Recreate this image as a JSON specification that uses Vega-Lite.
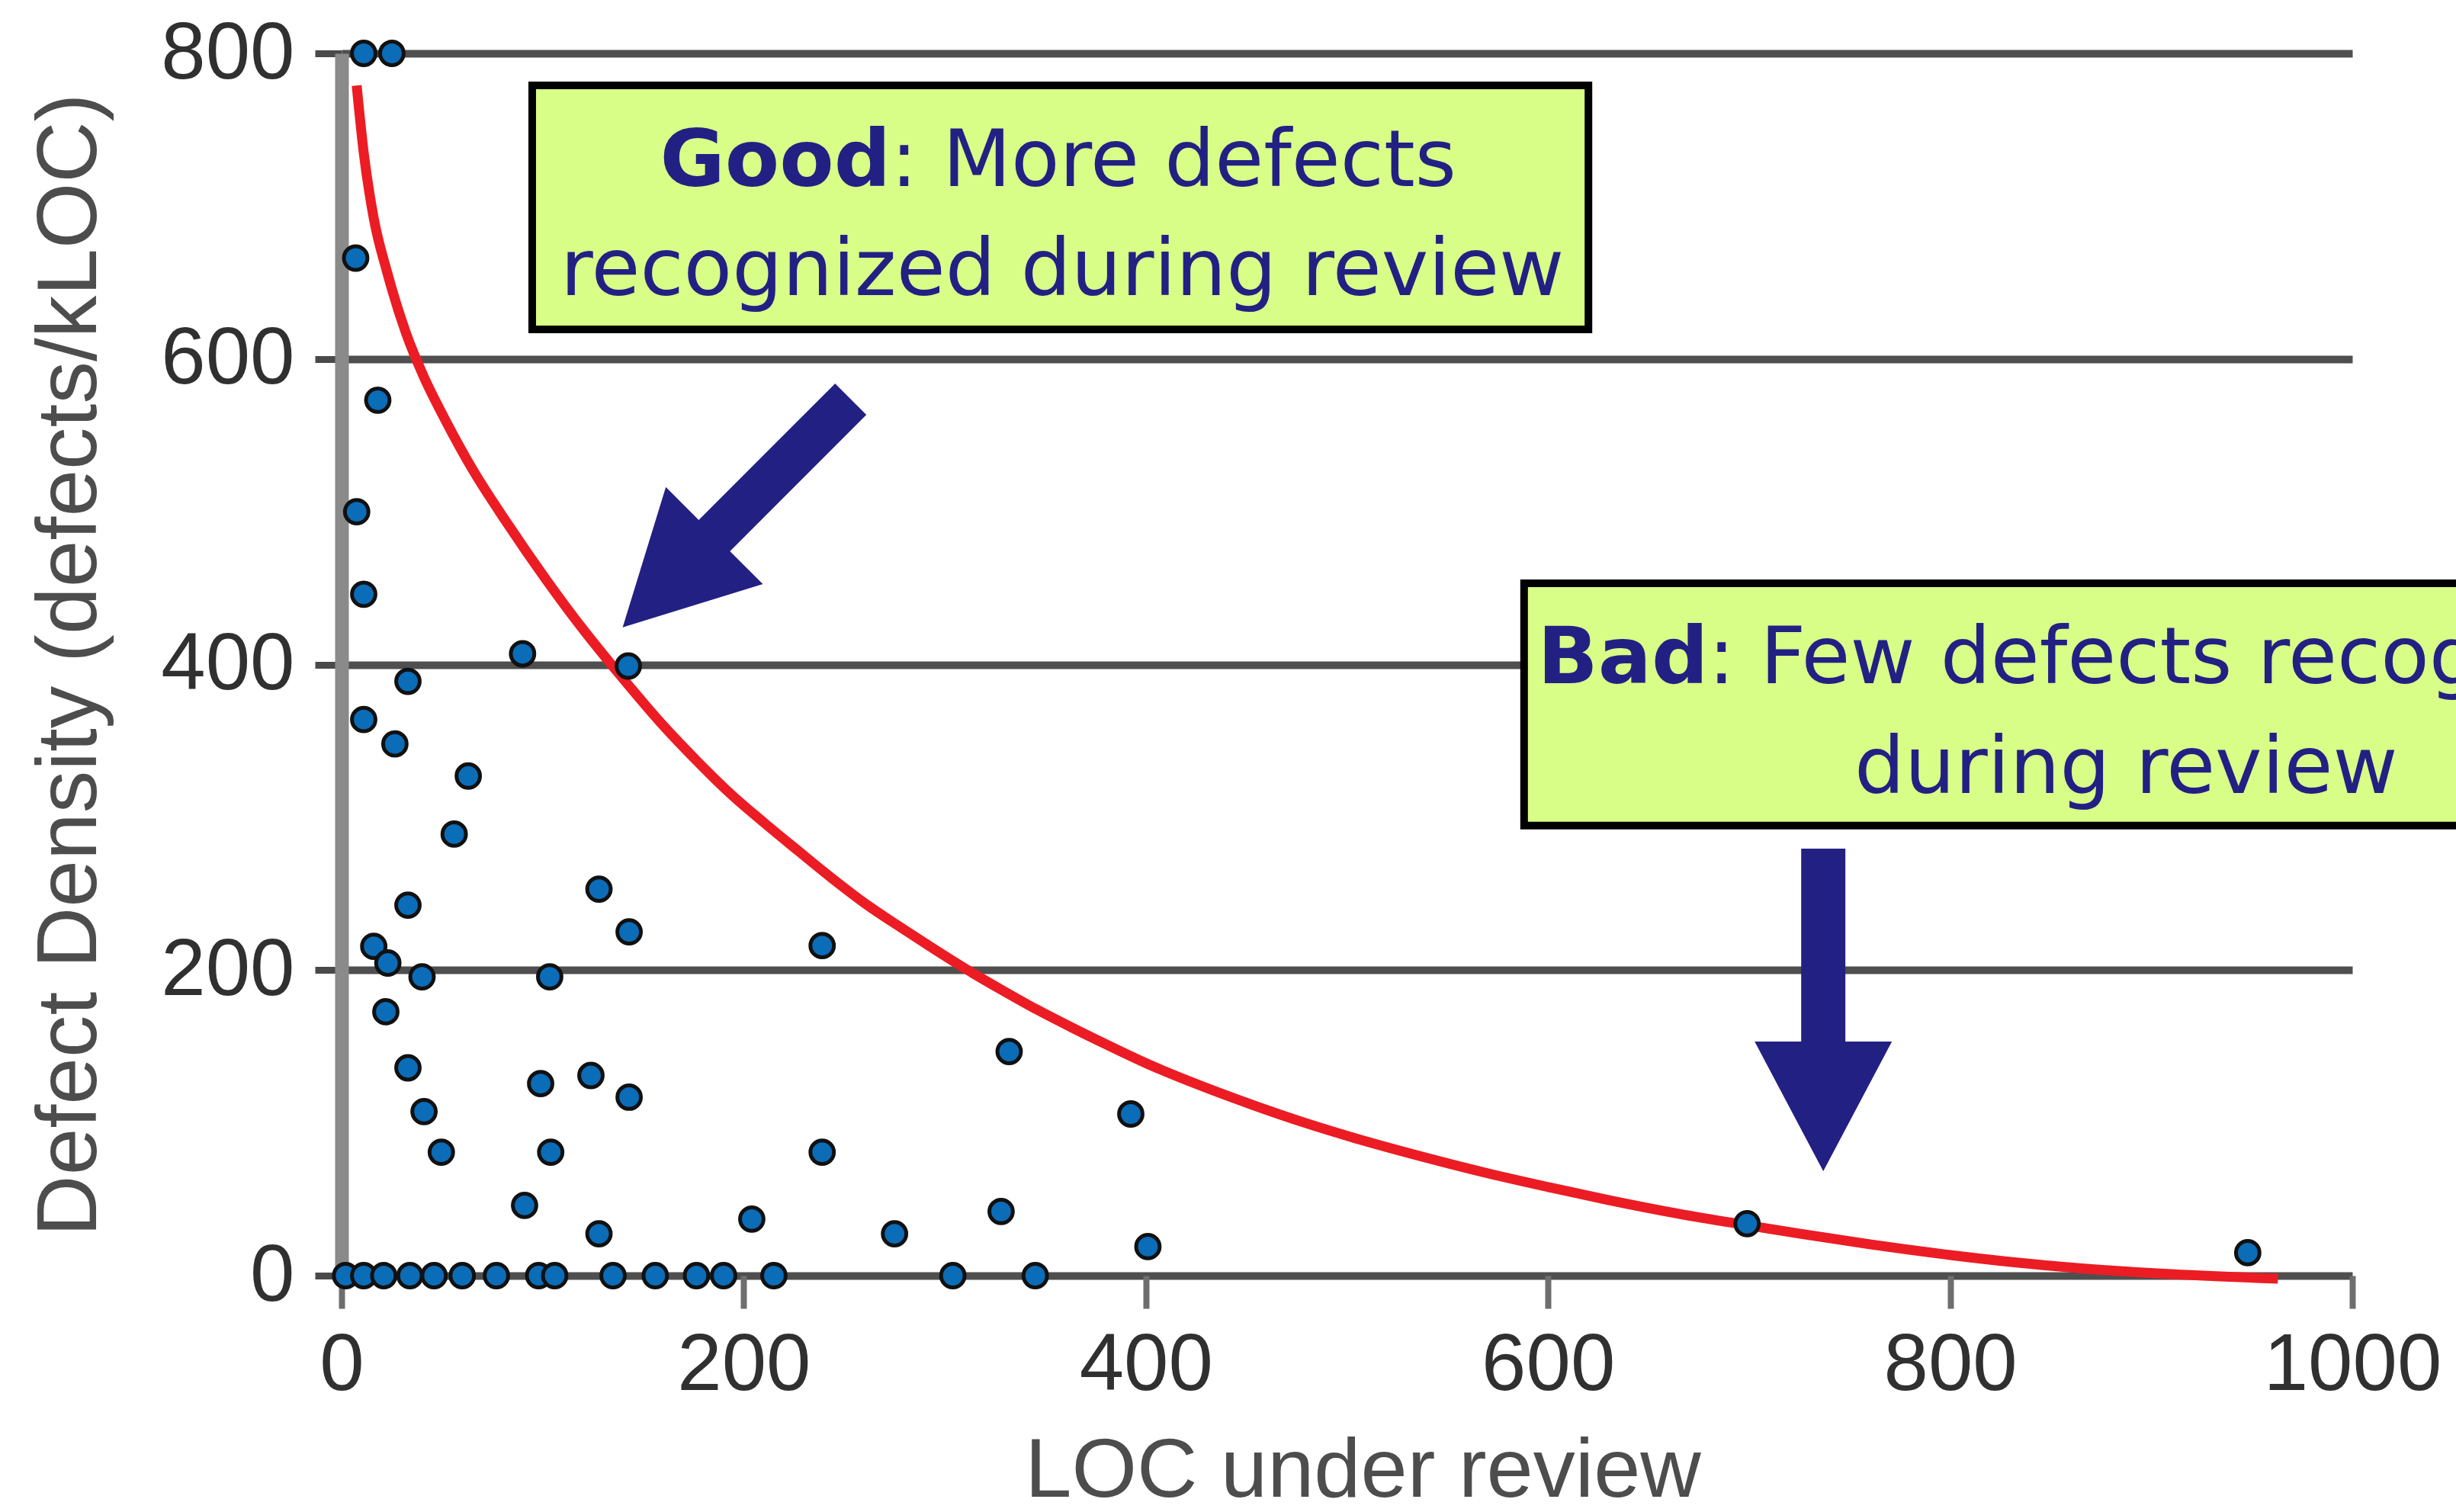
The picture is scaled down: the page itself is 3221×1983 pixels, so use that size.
{
  "$schema": "https://vega.github.io/schema/vega-lite/v6.json",
  "width": 2637,
  "height": 1603,
  "autosize": {"type": "none"},
  "padding": {"left": 448, "top": 70, "right": 136, "bottom": 310},
  "background": "white",
  "config": {"view": {"stroke": null}},
  "datasets": {
    "reviews": [
      {"loc": 11, "density": 800}, {"loc": 25, "density": 800},
      {"loc": 7, "density": 666}, {"loc": 18, "density": 573}, {"loc": 7.5, "density": 500},
      {"loc": 11, "density": 446}, {"loc": 90, "density": 407}, {"loc": 142.6, "density": 399},
      {"loc": 33, "density": 389}, {"loc": 11, "density": 364}, {"loc": 26.5, "density": 348},
      {"loc": 63, "density": 327}, {"loc": 56, "density": 289}, {"loc": 33, "density": 242.5},
      {"loc": 128, "density": 253}, {"loc": 143, "density": 225}, {"loc": 239, "density": 216},
      {"loc": 16, "density": 215.5}, {"loc": 23, "density": 204.6}, {"loc": 40, "density": 195.6},
      {"loc": 103.5, "density": 195.6}, {"loc": 22, "density": 172.7}, {"loc": 33, "density": 136},
      {"loc": 99, "density": 125.7}, {"loc": 124, "density": 131}, {"loc": 143, "density": 116.8},
      {"loc": 41, "density": 107.4}, {"loc": 49.6, "density": 80.8}, {"loc": 104, "density": 80.8},
      {"loc": 239, "density": 80.8}, {"loc": 91, "density": 46}, {"loc": 128, "density": 27.4},
      {"loc": 204, "density": 37}, {"loc": 332, "density": 146.7}, {"loc": 392.5, "density": 105.8},
      {"loc": 275, "density": 27.4}, {"loc": 328, "density": 42}, {"loc": 401, "density": 19},
      {"loc": 699, "density": 34}, {"loc": 948, "density": 15},
      {"loc": 2, "density": 0}, {"loc": 11, "density": 0}, {"loc": 21, "density": 0},
      {"loc": 34, "density": 0}, {"loc": 46, "density": 0}, {"loc": 60, "density": 0},
      {"loc": 77, "density": 0}, {"loc": 98, "density": 0}, {"loc": 106, "density": 0},
      {"loc": 135, "density": 0}, {"loc": 156, "density": 0}, {"loc": 176.5, "density": 0},
      {"loc": 190, "density": 0}, {"loc": 215, "density": 0}, {"loc": 304, "density": 0},
      {"loc": 345, "density": 0}
    ],
    "trend": [
      {"loc": 7.5, "density": 779}, {"loc": 11, "density": 735}, {"loc": 16, "density": 692},
      {"loc": 22.6, "density": 657}, {"loc": 32, "density": 617}, {"loc": 41, "density": 588},
      {"loc": 51.6, "density": 560}, {"loc": 65, "density": 528}, {"loc": 82.6, "density": 492},
      {"loc": 102, "density": 455}, {"loc": 116, "density": 430}, {"loc": 134.8, "density": 399},
      {"loc": 143, "density": 386}, {"loc": 160, "density": 360}, {"loc": 177, "density": 336.5},
      {"loc": 193.7, "density": 315}, {"loc": 210.5, "density": 296}, {"loc": 227.6, "density": 277.5},
      {"loc": 244, "density": 260}, {"loc": 261, "density": 243}, {"loc": 278, "density": 228},
      {"loc": 295, "density": 213.5}, {"loc": 312, "density": 199.5}, {"loc": 329, "density": 186.5},
      {"loc": 346, "density": 174}, {"loc": 363, "density": 162.5}, {"loc": 380, "density": 151.5},
      {"loc": 401, "density": 138.5}, {"loc": 425, "density": 125.5}, {"loc": 452.5, "density": 112},
      {"loc": 478, "density": 100.5}, {"loc": 504, "density": 90}, {"loc": 540, "density": 77},
      {"loc": 570, "density": 67}, {"loc": 600, "density": 58}, {"loc": 630, "density": 49.5},
      {"loc": 665, "density": 40.5}, {"loc": 699, "density": 33}, {"loc": 725, "density": 27.5},
      {"loc": 760, "density": 20.5}, {"loc": 800, "density": 13.5}, {"loc": 830, "density": 9},
      {"loc": 863, "density": 5}, {"loc": 910, "density": 1}, {"loc": 963, "density": -2}
    ]
  },
  "layer": [
    {
      "data": {"name": "trend"},
      "mark": {"type": "line", "color": "#ec1c24", "strokeWidth": 13, "interpolate": "monotone"},
      "encoding": {
        "x": {
          "field": "loc", "type": "quantitative",
          "scale": {"domain": [0, 1000], "nice": false, "zero": false},
          "axis": {
            "values": [0, 200, 400, 600, 800, 1000], "format": "d",
            "title": "LOC under review", "grid": false, "domain": false,
            "ticks": true, "tickColor": "#6e6e6e", "tickWidth": 8, "tickSize": 43,
            "labelFont": "Liberation Sans", "labelFontSize": 105, "labelColor": "#303030",
            "labelPadding": 23, "labelFlush": false, "labelOverlap": false, "labelLimit": 0,
            "titleFont": "Liberation Sans", "titleFontSize": 110, "titleFontWeight": "normal",
            "titleColor": "#4d4d4d", "titleX": 1339, "titleY": 289,
            "titleBaseline": "alphabetic", "titleAlign": "center", "titleLimit": 0
          }
        },
        "y": {
          "field": "density", "type": "quantitative",
          "scale": {"domain": [0, 800], "nice": false, "zero": false},
          "axis": {
            "values": [0, 200, 400, 600, 800], "format": "d",
            "title": "Defect Density (defects/kLOC)",
            "grid": true, "gridColor": "#4f4f4f", "gridWidth": 10,
            "domain": true, "domainColor": "#8a8a8a", "domainWidth": 18,
            "ticks": true, "tickColor": "#4a4a4a", "tickWidth": 9, "tickSize": 35,
            "labelFont": "Liberation Sans", "labelFontSize": 105, "labelColor": "#303030",
            "labelPadding": 27, "labelOverlap": false, "labelLimit": 0,
            "titleFont": "Liberation Sans", "titleFontSize": 111, "titleFontWeight": "normal",
            "titleColor": "#4d4d4d", "titleX": -323, "titleBaseline": "alphabetic", "titleLimit": 0
          }
        }
      }
    },
    {
      "data": {"name": "reviews"},
      "mark": {"type": "point", "shape": "circle", "filled": true, "fill": "#0b6cb8", "stroke": "#111111", "strokeWidth": 5, "size": 950, "opacity": 1},
      "encoding": {
        "x": {"field": "loc", "type": "quantitative"},
        "y": {"field": "density", "type": "quantitative"}
      }
    },
    {
      "data": {"values": [{}]},
      "mark": {"type": "rect", "fill": "#d9fe88", "stroke": "#000000", "strokeWidth": 10},
      "encoding": {
        "x": {"datum": 94.8, "type": "quantitative"}, "x2": {"datum": 620.1},
        "y": {"datum": 779.1, "type": "quantitative"}, "y2": {"datum": 619.4}
      }
    },
    {
      "data": {"values": [{}]},
      "mark": {"type": "rect", "fill": "#d9fe88", "stroke": "#000000", "strokeWidth": 10},
      "encoding": {
        "x": {"datum": 588.1, "type": "quantitative"}, "x2": {"datum": 1195.5},
        "y": {"datum": 453.2, "type": "quantitative"}, "y2": {"datum": 294.6}
      }
    },
    {
      "data": {"values": [{}]},
      "mark": {"type": "text", "text": "Good", "font": "DejaVu Sans", "fontWeight": "bold", "fontSize": 104, "color": "#232084", "align": "right", "baseline": "alphabetic"},
      "encoding": {"x": {"datum": 273.1, "type": "quantitative"}, "y": {"datum": 713.4, "type": "quantitative"}}
    },
    {
      "data": {"values": [{}]},
      "mark": {"type": "text", "text": ": More defects", "font": "DejaVu Sans", "fontSize": 104, "color": "#232084", "align": "left", "baseline": "alphabetic"},
      "encoding": {"x": {"datum": 273.1, "type": "quantitative"}, "y": {"datum": 713.4, "type": "quantitative"}}
    },
    {
      "data": {"values": [{}]},
      "mark": {"type": "text", "text": "recognized during review", "font": "DejaVu Sans", "fontSize": 104, "color": "#232084", "align": "center", "baseline": "alphabetic"},
      "encoding": {"x": {"datum": 358.4, "type": "quantitative"}, "y": {"datum": 641.9, "type": "quantitative"}}
    },
    {
      "data": {"values": [{}]},
      "mark": {"type": "text", "text": "Bad", "font": "DejaVu Sans", "fontWeight": "bold", "fontSize": 104, "color": "#232084", "align": "right", "baseline": "alphabetic"},
      "encoding": {"x": {"datum": 679.7, "type": "quantitative"}, "y": {"datum": 387.7, "type": "quantitative"}}
    },
    {
      "data": {"values": [{}]},
      "mark": {"type": "text", "text": ": Few defects recognized", "font": "DejaVu Sans", "fontSize": 104, "color": "#232084", "align": "left", "baseline": "alphabetic"},
      "encoding": {"x": {"datum": 679.7, "type": "quantitative"}, "y": {"datum": 387.7, "type": "quantitative"}}
    },
    {
      "data": {"values": [{}]},
      "mark": {"type": "text", "text": "during review", "font": "DejaVu Sans", "fontSize": 104, "color": "#232084", "align": "center", "baseline": "alphabetic"},
      "encoding": {"x": {"datum": 887.5, "type": "quantitative"}, "y": {"datum": 315.9, "type": "quantitative"}}
    },
    {
      "data": {"values": [{}]},
      "mark": {"type": "point", "shape": "M-0.137,-1L0.137,-1L0.137,0.196L0.4255,0.196L0,1L-0.4255,0.196L-0.137,0.196Z", "size": 178929, "filled": true, "color": "#232083", "opacity": 1, "strokeWidth": 0, "angle": 45},
      "encoding": {"x": {"datum": 196.5, "type": "quantitative"}, "y": {"datum": 499, "type": "quantitative"}}
    },
    {
      "data": {"values": [{}]},
      "mark": {"type": "point", "shape": "M-0.137,-1L0.137,-1L0.137,0.196L0.4255,0.196L0,1L-0.4255,0.196L-0.137,0.196Z", "size": 178929, "filled": true, "color": "#232083", "opacity": 1, "strokeWidth": 0},
      "encoding": {"x": {"datum": 736.9, "type": "quantitative"}, "y": {"datum": 173.9, "type": "quantitative"}}
    }
  ]
}
